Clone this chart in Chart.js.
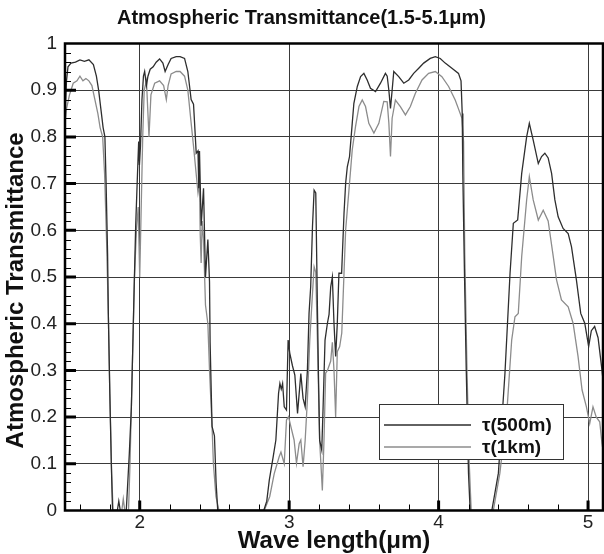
<!DOCTYPE html>
<html>
<head>
<meta charset="utf-8">
<script src="https://cdn.jsdelivr.net/npm/chart.js@4.4.1/dist/chart.umd.min.js"></script>
<style>
  html, body { margin: 0; padding: 0; background: #fff; }
  #wrap { width: 604px; height: 554px; }
</style>
</head>
<body>
<div id="wrap"><canvas id="chart" width="604" height="554"></canvas></div>
<script>
// --- data ---
const xTickLabels = [2, 3, 4, 5];
const seriesNames = ['τ(500m)', 'τ(1km)'];

// tau 500 m (dark curve)
const wl500 = [1.5, 1.51, 1.52, 1.54, 1.57, 1.6, 1.63, 1.66, 1.69, 1.71, 1.725, 1.74, 1.755, 1.767, 1.775, 1.785, 1.79, 1.8, 1.81, 1.818,
  1.85, 1.86, 1.87, 1.88, 1.91, 1.93, 1.944, 1.96, 1.973, 1.985, 1.993, 1.998, 2.005, 2.015, 2.025, 2.033, 2.045, 2.055, 2.07, 2.09,
  2.11, 2.133, 2.155, 2.17, 2.19, 2.21, 2.244, 2.27, 2.3, 2.322, 2.344, 2.36, 2.367, 2.378, 2.39, 2.395, 2.4, 2.411, 2.427, 2.44,
  2.456, 2.467, 2.471, 2.484, 2.5, 2.511, 2.522, 2.83, 2.85, 2.867, 2.893, 2.911, 2.929, 2.938, 2.947, 2.956, 2.967, 2.982, 2.993, 3.004,
  3.022, 3.038, 3.056, 3.078, 3.093, 3.107, 3.122, 3.133, 3.144, 3.156, 3.167, 3.178, 3.189, 3.196, 3.204, 3.218, 3.227, 3.24, 3.256, 3.267,
  3.278, 3.289, 3.3, 3.311, 3.322, 3.333, 3.351, 3.367, 3.378, 3.389, 3.404, 3.422, 3.433, 3.456, 3.478, 3.5, 3.522, 3.544, 3.578, 3.611,
  3.644, 3.656, 3.667, 3.678, 3.689, 3.7, 3.733, 3.767, 3.8, 3.833, 3.867, 3.9, 3.944, 3.978, 4.011, 4.044, 4.089, 4.133, 4.15, 4.158,
  4.162, 4.173, 4.185, 4.2, 4.211, 4.356, 4.4, 4.444, 4.478, 4.5, 4.529, 4.556, 4.589, 4.607, 4.633, 4.667, 4.689, 4.711, 4.733, 4.756,
  4.778, 4.8, 4.833, 4.867, 4.889, 4.922, 4.951, 4.978, 5.004, 5.022, 5.044, 5.067, 5.093, 5.1];
const tau500 = [0.84, 0.92, 0.95, 0.958, 0.96, 0.965, 0.962, 0.965, 0.955, 0.93, 0.9, 0.86, 0.82, 0.8, 0.7, 0.55, 0.42, 0.25, 0.1, 0,
  0, 0.02, 0, 0, 0, 0.12, 0.22, 0.44, 0.61, 0.72, 0.79, 0.74, 0.78, 0.88, 0.93, 0.94, 0.91, 0.93, 0.945, 0.95,
  0.96, 0.967, 0.958, 0.94, 0.955, 0.968, 0.972, 0.972, 0.968, 0.94, 0.88, 0.87, 0.83, 0.765, 0.77, 0.69, 0.77, 0.61, 0.69, 0.5,
  0.58, 0.49, 0.36, 0.18, 0.16, 0.06, 0, 0, 0.02, 0.065, 0.115, 0.151, 0.251, 0.272, 0.26, 0.272, 0.222, 0.215, 0.365, 0.337,
  0.31, 0.29, 0.208, 0.293, 0.24, 0.222, 0.3, 0.422, 0.479, 0.608, 0.686, 0.68, 0.436, 0.29, 0.15, 0.129, 0.22, 0.365, 0.401, 0.42,
  0.479, 0.5, 0.4, 0.33, 0.4, 0.508, 0.508, 0.636, 0.701, 0.736, 0.758, 0.829, 0.872, 0.908, 0.929, 0.936, 0.922, 0.904, 0.897, 0.915,
  0.936, 0.93, 0.9, 0.861, 0.9, 0.94, 0.929, 0.915, 0.922, 0.936, 0.947, 0.958, 0.968, 0.972, 0.968, 0.958, 0.947, 0.936, 0.92, 0.85,
  0.72, 0.508, 0.3, 0.08, 0, 0, 0.08, 0.294, 0.508, 0.615, 0.622, 0.722, 0.8, 0.829, 0.793, 0.743, 0.758, 0.765, 0.755, 0.722,
  0.665, 0.629, 0.604, 0.593, 0.565, 0.494, 0.422, 0.401, 0.351, 0.385, 0.394, 0.37, 0.301, 0.28];

// tau 1 km (grey curve)
const wl1k = [1.5, 1.51, 1.53, 1.555, 1.58, 1.6, 1.62, 1.64, 1.66, 1.68, 1.7, 1.72, 1.735, 1.752, 1.765, 1.778, 1.79, 1.8, 1.812, 1.822,
  1.88, 1.89, 1.9, 1.925, 1.935, 1.95, 1.965, 1.978, 1.99, 2.0, 2.008, 2.02, 2.03, 2.045, 2.055, 2.062, 2.075, 2.1, 2.133, 2.16,
  2.178, 2.19, 2.21, 2.244, 2.27, 2.3, 2.322, 2.344, 2.36, 2.378, 2.39, 2.4, 2.405, 2.411, 2.418, 2.427, 2.44, 2.456, 2.467, 2.484,
  2.493, 2.51, 2.53, 2.833, 2.87, 2.9, 2.933, 2.945, 2.967, 2.982, 2.996, 3.011, 3.033, 3.049, 3.067, 3.078, 3.093, 3.107, 3.122, 3.138,
  3.156, 3.167, 3.178, 3.189, 3.204, 3.222, 3.233, 3.244, 3.256, 3.278, 3.289, 3.3, 3.311, 3.322, 3.338, 3.352, 3.367, 3.378, 3.4, 3.422,
  3.444, 3.467, 3.489, 3.511, 3.533, 3.567, 3.6, 3.633, 3.656, 3.667, 3.678, 3.689, 3.711, 3.744, 3.778, 3.811, 3.844, 3.889, 3.933, 3.978,
  4.022, 4.067, 4.111, 4.133, 4.156, 4.167, 4.175, 4.19, 4.205, 4.218, 4.366, 4.41, 4.456, 4.489, 4.511, 4.533, 4.556, 4.589, 4.607, 4.633,
  4.667, 4.7, 4.733, 4.767, 4.789, 4.822, 4.867, 4.9, 4.933, 4.96, 4.989, 5.011, 5.033, 5.055, 5.078, 5.093, 5.1];
const tau1k = [0.83, 0.86, 0.89, 0.915, 0.92, 0.93, 0.92, 0.925, 0.92, 0.91, 0.88, 0.85, 0.82, 0.8, 0.72, 0.58, 0.42, 0.25, 0.08, 0,
  0, 0.025, 0, 0, 0.1, 0.3, 0.5, 0.6, 0.65, 0.5, 0.62, 0.8, 0.9, 0.92, 0.85, 0.8, 0.89, 0.915, 0.92, 0.91,
  0.88, 0.91, 0.935, 0.94, 0.94, 0.93, 0.9, 0.83, 0.78, 0.72, 0.68, 0.7, 0.59, 0.53, 0.62, 0.58, 0.44, 0.4, 0.3, 0.18,
  0.1, 0.03, 0, 0, 0.03, 0.079, 0.115, 0.125, 0.1, 0.194, 0.201, 0.18, 0.151, 0.101, 0.143, 0.151, 0.094, 0.15, 0.237, 0.365,
  0.465, 0.522, 0.51, 0.365, 0.15, 0.043, 0.15, 0.294, 0.3, 0.32, 0.36, 0.3, 0.2, 0.34, 0.351, 0.38, 0.508, 0.601, 0.686, 0.772,
  0.822, 0.865, 0.879, 0.865, 0.829, 0.808, 0.829, 0.876, 0.875, 0.83, 0.758, 0.84, 0.879, 0.865, 0.847, 0.865, 0.893, 0.922, 0.936, 0.94,
  0.929, 0.908, 0.879, 0.86, 0.84, 0.79, 0.55, 0.3, 0.1, 0, 0, 0.08, 0.208, 0.365, 0.415, 0.422, 0.544, 0.665, 0.715, 0.665,
  0.622, 0.643, 0.62, 0.544, 0.494, 0.451, 0.436, 0.401, 0.33, 0.258, 0.222, 0.186, 0.222, 0.2, 0.19, 0.144, 0.13];

const FONT = '"Liberation Sans", Arial, sans-serif';
const DARK = '#2e2e2e';
const GREY = '#8c8c8c';

function toPoints(xs, ys) {
    return xs.map((x, i) => ({ x: x, y: ys[i] }));
}

// inward ticks, thick frame and the boxed legend
const framePlugin = {
    id: 'frame',
    afterDatasetsDraw(chart) {
        const ctx = chart.ctx;
        const a = chart.chartArea;
        const xs = chart.scales.x;
        const ys = chart.scales.y;
        ctx.save();
        ctx.strokeStyle = '#000';
        // minor ticks
        ctx.lineWidth = 1;
        ctx.beginPath();
        for (let v = 1.6; v < 5.1; v += 0.2) {
            const px = Math.round(xs.getPixelForValue(v)) + 0.5;
            ctx.moveTo(px, a.bottom); ctx.lineTo(px, a.bottom - 6);
        }
        for (let k = 1; k < 50; k++) {
            if (k % 5 === 0) continue;
            const py = Math.round(ys.getPixelForValue(k * 0.02)) + 0.5;
            ctx.moveTo(a.left, py); ctx.lineTo(a.left + 6, py);
        }
        ctx.stroke();
        // major ticks
        ctx.lineWidth = 3;
        ctx.beginPath();
        xTickLabels.forEach(v => {
            const px = xs.getPixelForValue(v);
            ctx.moveTo(px, a.bottom); ctx.lineTo(px, a.bottom - 10);
        });
        for (let k = 1; k < 10; k++) {
            const py = ys.getPixelForValue(k * 0.1);
            ctx.moveTo(a.left, py); ctx.lineTo(a.left + 11, py);
        }
        ctx.stroke();
        // frame
        ctx.lineWidth = 2.5;
        ctx.strokeRect(a.left, a.top, a.right - a.left, a.bottom - a.top);

        // legend box
        const lx = 379, ly = 404, lw = 184, lh = 55;
        ctx.fillStyle = '#fff';
        ctx.fillRect(lx, ly, lw, lh);
        ctx.lineWidth = 1;
        ctx.strokeStyle = '#333';
        ctx.strokeRect(lx + 0.5, ly + 0.5, lw, lh);
        const colors = [DARK, GREY];
        ctx.font = 'bold 19px ' + FONT;
        ctx.textBaseline = 'middle';
        seriesNames.forEach((name, i) => {
            const y = ly + 21 + i * 22;
            ctx.strokeStyle = colors[i];
            ctx.lineWidth = 1.5;
            ctx.beginPath();
            ctx.moveTo(lx + 5, y); ctx.lineTo(lx + 92, y);
            ctx.stroke();
            ctx.fillStyle = '#111';
            ctx.fillText(name, lx + 103, y + 1);
        });
        ctx.restore();
    }
};

new Chart(document.getElementById('chart'), {
    type: 'scatter',
    data: {
        datasets: [
            { label: seriesNames[0], data: toPoints(wl500, tau500), showLine: true, borderColor: DARK, borderWidth: 1.3, pointRadius: 0, tension: 0 },
            { label: seriesNames[1], data: toPoints(wl1k, tau1k), showLine: true, borderColor: GREY, borderWidth: 1.3, pointRadius: 0, tension: 0 }
        ]
    },
    options: {
        responsive: false,
        animation: false,
        layout: { padding: { left: 0, right: 1, top: 0, bottom: 0 } },
        plugins: {
            legend: { display: false },
            tooltip: { enabled: false },
            title: {
                display: true,
                text: 'Atmospheric Transmittance(1.5-5.1μm)',
                color: '#111',
                font: { family: FONT, size: 20, weight: 'bold', lineHeight: 1.2 },
                padding: { top: 6, bottom: 13.5 }
            }
        },
        scales: {
            x: {
                type: 'linear',
                min: 1.5,
                max: 5.1,
                afterBuildTicks: s => { s.ticks = xTickLabels.map(v => ({ value: v })); },
                afterFit: s => { s.height = 43.5; },
                grid: { color: '#3a3a3a', lineWidth: 1, drawTicks: false },
                border: { display: false },
                ticks: { color: '#222', font: { family: FONT, size: 19 }, padding: 1, maxRotation: 0 },
                title: {
                    display: true,
                    text: 'Wave length(μm)',
                    color: '#111',
                    font: { family: FONT, size: 24, weight: 'bold', lineHeight: 1 },
                    padding: { top: 0, bottom: 1 }
                }
            },
            y: {
                min: 0,
                max: 1,
                afterFit: s => { s.width = 65; },
                grid: { color: '#3a3a3a', lineWidth: 1, drawTicks: false },
                border: { display: false },
                ticks: {
                    stepSize: 0.1,
                    color: '#222',
                    font: { family: FONT, size: 19 },
                    padding: 8,
                    callback: v => String(+v.toFixed(1))
                },
                title: {
                    display: true,
                    // trailing spaces push the centred title a little lower, as in the original
                    text: 'Atmospheric Transmittance    ',
                    color: '#111',
                    font: { family: FONT, size: 24, weight: 'bold', lineHeight: 1 },
                    padding: { top: 4, bottom: 0 }
                }
            }
        }
    },
    plugins: [framePlugin]
});
</script>
</body>
</html>
